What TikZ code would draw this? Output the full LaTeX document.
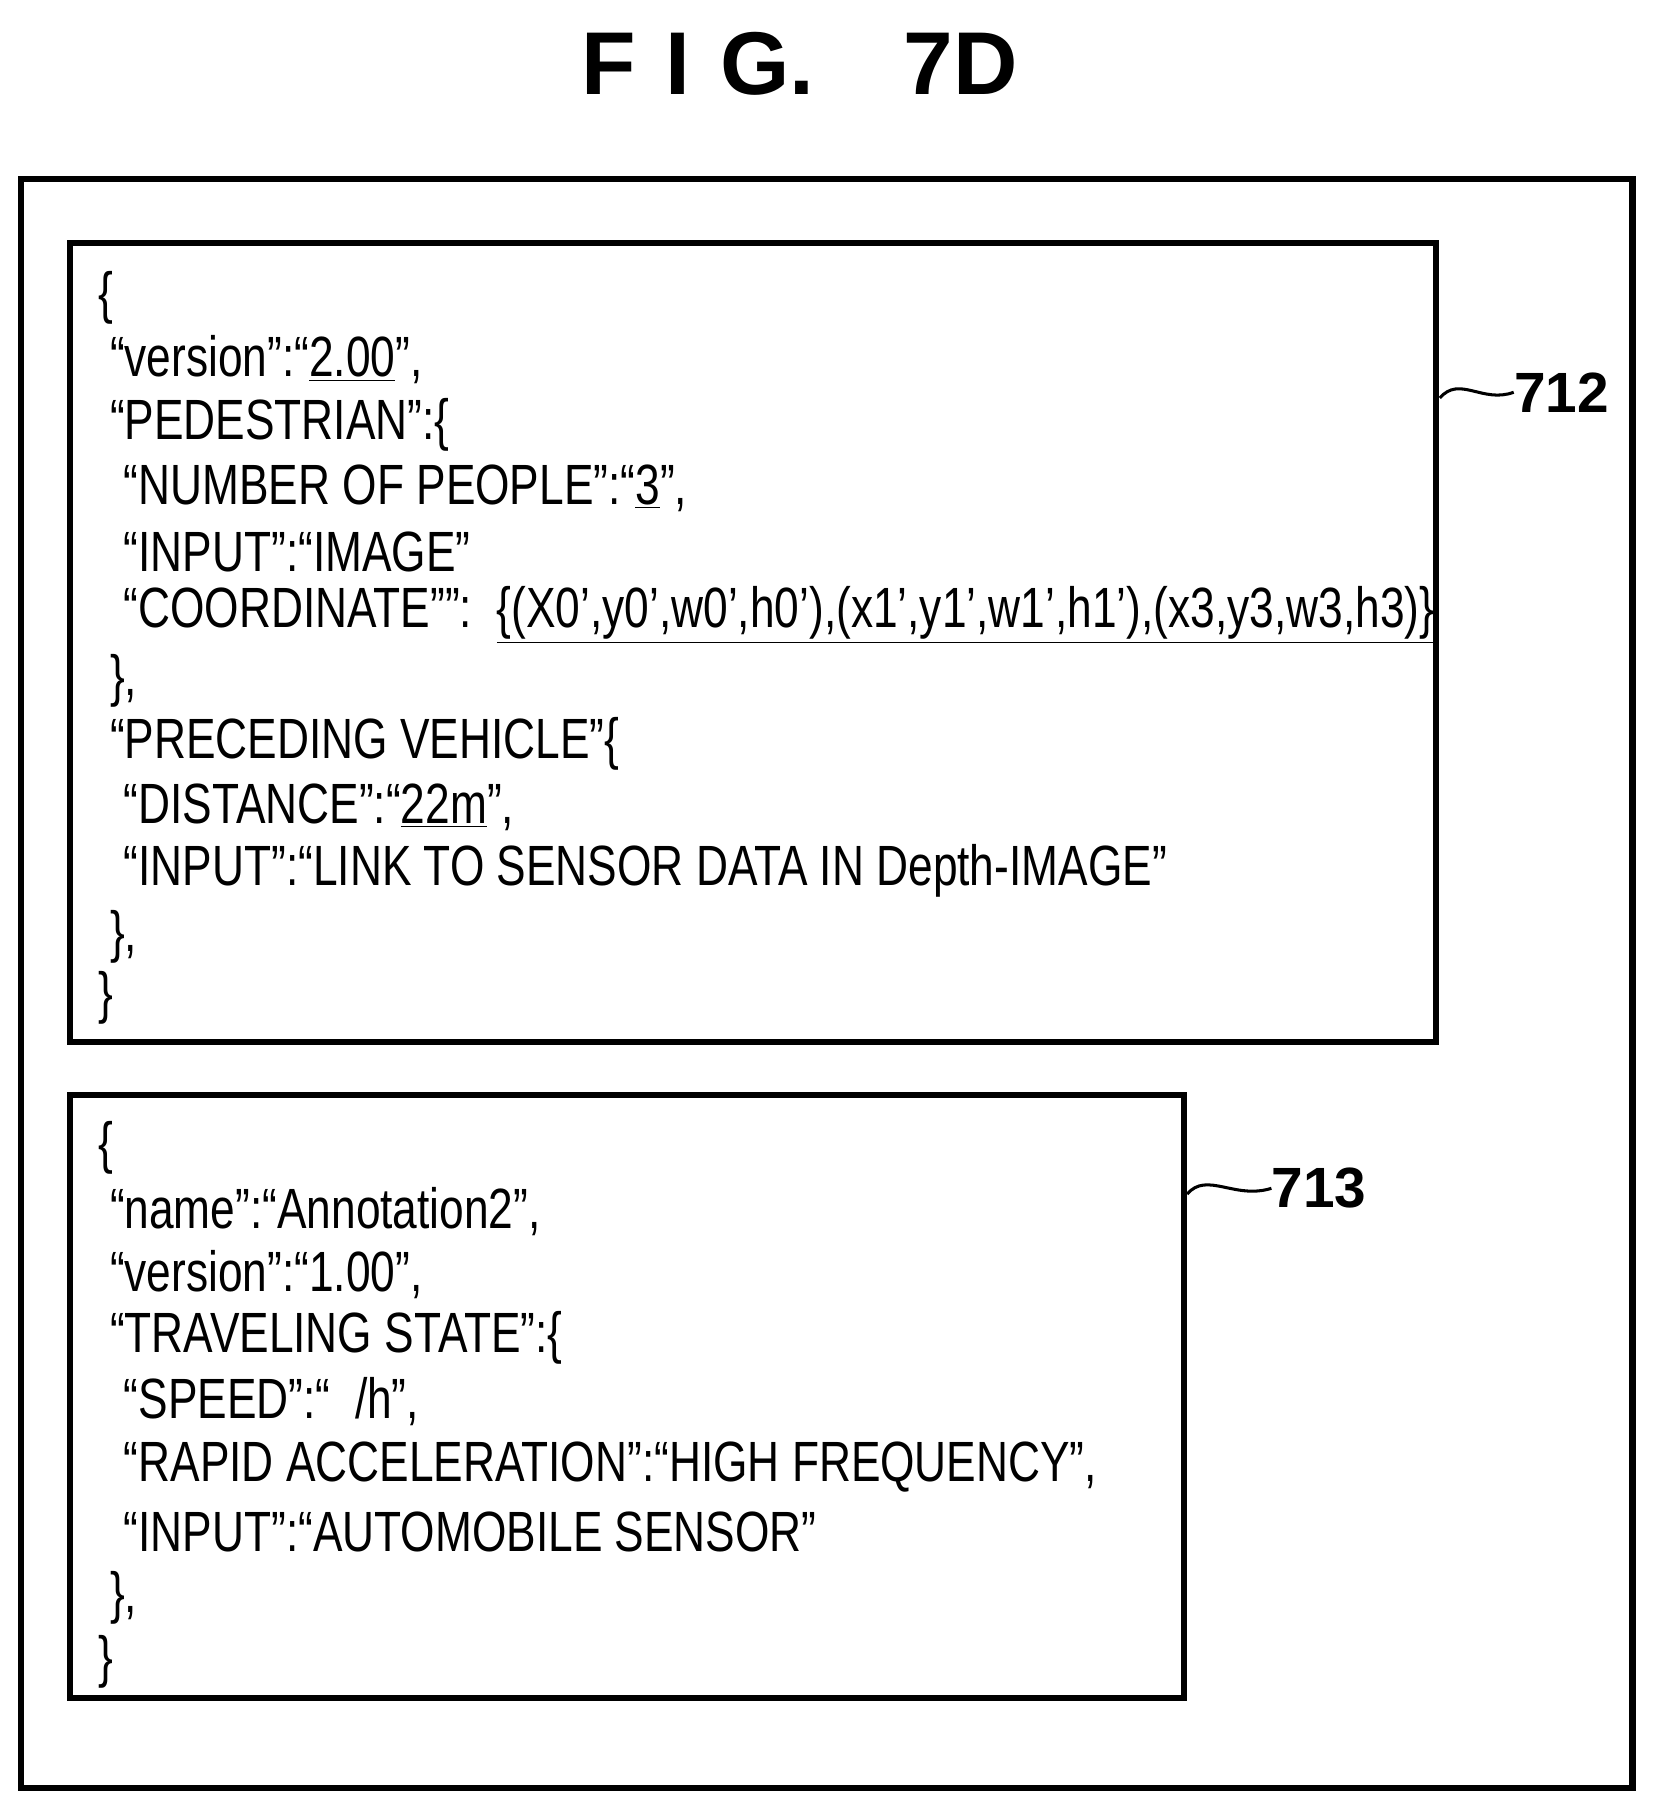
\documentclass[tikz,border=0pt]{standalone}
\usepackage{fontspec}
\setmainfont{Liberation Sans}[FakeStretch=0.78]
\newfontfamily\titlefont{Liberation Sans}
\usetikzlibrary{positioning}
\tikzset{
  frame/.style={draw=black, line width=3pt},
  code/.style={anchor=west, inner sep=0pt, font=\fontsize{28}{34}\selectfont},
  tag/.style={anchor=west, inner sep=0pt, font=\fontsize{28}{34}\selectfont\titlefont\bfseries},
  leader/.style={line width=1.5pt}
}
\newcommand{\ul}[1]{\underline{#1}}
\begin{document}
\begin{tikzpicture}[x=0.02cm, y=-0.02cm]
  \useasboundingbox (0,0) rectangle (1433,1568);

  % title
  \node[inner sep=0pt, font=\fontsize{44}{50}\selectfont\titlefont\bfseries] (title) at (693,55) {F\,\,I\,\,G.\quad 7D};

  % frames
  \draw[frame] (18,155) rectangle (1415,1550);
  \draw[frame] (61,211) rectangle (1245,903);
  \draw[frame] (61,949) rectangle (1026,1472);

  % first record
  \node[code] (a1) at (85,258) {\{};
  \node[code] (a2) at (95,312) {“version”:“\ul{2.00}”,};
  \node[code] (a3) at (95,368) {“PEDESTRIAN”:\{};
  \node[code] (a4) at (107,423) {“NUMBER OF PEOPLE”:“\ul{3}”,};
  \node[code] (a5) at (107,478) {“INPUT”:“IMAGE”};
  \node[code] (a6) at (107,533) {“COORDINATE””:\ \ \ul{\{(X0',y0',w0',h0'),(x1',y1',w1',h1'),(x3,y3,w3,h3)\}}};
  \node[code] (a7) at (95,590) {\},};
  \node[code] (a8) at (95,645) {“PRECEDING VEHICLE”\{};
  \node[code] (a9) at (107,700) {“DISTANCE”:“\ul{22m}”,};
  \node[code] (a10) at (107,755) {“INPUT”:“LINK TO SENSOR DATA IN Depth-IMAGE”};
  \node[code] (a11) at (95,812) {\},};
  \node[code] (a12) at (85,865) {\}};

  % second record
  \node[code] (b1) at (85,995) {\{};
  \node[code] (b2) at (95,1050) {“name”:“Annotation2”,};
  \node[code] (b3) at (95,1105) {“version”:“1.00”,};
  \node[code] (b4) at (95,1160) {“TRAVELING STATE”:\{};
  \node[code] (b5) at (107,1215) {“SPEED”:“\ \ /h”,};
  \node[code] (b6) at (107,1272) {“RAPID ACCELERATION”:“HIGH FREQUENCY”,};
  \node[code] (b7) at (107,1328) {“INPUT”:“AUTOMOBILE SENSOR”};
  \node[code] (b8) at (95,1385) {\},};
  \node[code] (b9) at (85,1440) {\}};

  % reference numerals
  \node[tag] (t712) at (1312,340) {712};
  \node[tag] (t713) at (1102,1030) {713};
  \coordinate (e712) at (1248,345);
  \coordinate (e713) at (1029,1035);
  \draw[leader] (e712) .. controls (1265,325) and (1285,350) .. (t712.west);
  \draw[leader] (e713) .. controls (1046,1015) and (1070,1040) .. (t713.west);
\end{tikzpicture}
\end{document}
